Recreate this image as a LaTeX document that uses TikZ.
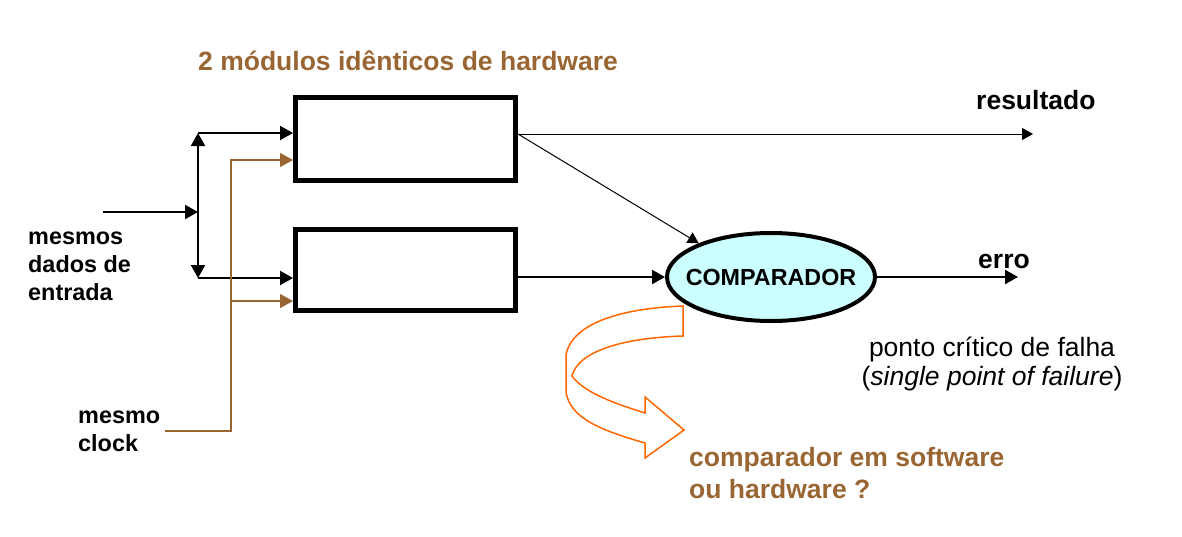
\documentclass[tikz,border=0pt]{standalone}
\usepackage{fontspec}
\setmainfont{Liberation Sans}
\usetikzlibrary{arrows.meta,shapes.geometric}
\definecolor{brn}{HTML}{996633}
\definecolor{org}{HTML}{FF6600}
\definecolor{cyn}{HTML}{CCFFFF}
\tikzset{
  tri/.tip={Triangle[length=13pt,width=14pt]},
  tris/.tip={Triangle[length=11pt,width=12pt]},
  conn/.style={line width=2.2pt,-tri},
  thinconn/.style={line width=1pt,-tris},
  clockconn/.style={line width=1.3pt,draw=brn,-{Triangle[length=13pt,width=14pt,fill=brn]}},
  modbox/.style={draw,line width=5pt,rectangle,minimum width=220pt,inner sep=0pt},
  cmpnode/.style={draw,ellipse,line width=4pt,fill=cyn,minimum width=208pt,minimum height=88pt,inner sep=0pt},
  cmptext/.style={font=\fontsize{23.3}{28}\selectfont\bfseries,inner sep=0pt},
  big/.style={font=\fontsize{26.5}{32}\selectfont\bfseries,anchor=base west,inner sep=0pt},
  lbl/.style={font=\fontsize{23.4}{28}\selectfont\bfseries,anchor=base west,inner sep=0pt,align=left},
  note/.style={font=\fontsize{26.5}{31}\selectfont,anchor=base,inner sep=0pt}
}
\begin{document}
\begin{tikzpicture}[x=1pt,y=-1pt]
\useasboundingbox (0,0) rectangle (1182,536);
% modules
\node[modbox,minimum height=83pt] (m1) at (405.5,139) {};
\node[modbox,minimum height=81pt] (m2) at (405.5,270) {};
\node[cmpnode] (cmp) at (771,277) {};
\node[cmptext] (cmptxt) at (cmp.center) {COMPARADOR};
% coordinates
\coordinate (in) at (103,212);
\coordinate (j) at (198,212);
\coordinate (jt) at (198,133);
\coordinate (jb) at (198,278);
\coordinate (clk) at (165,431);
\coordinate (ccorner) at (231,431);
\coordinate (ct) at (231,160);
\coordinate (cb) at (231,301);
\coordinate (res) at (1033,134);
\coordinate (err) at (1018,277);
% data connectors
\draw[conn] (in) -- (j);
\draw[line width=2.2pt,tri-tri] (jt) -- (jb);
\draw[conn] (jt) -- (jt -| m1.west);
\draw[conn] (jb) -- (jb -| m2.west);
% clock
\draw[clockconn] (clk) -- (ccorner) -- (ct) -- (ct -| m1.west);
\draw[clockconn] (cb) -- (cb -| m2.west);
% outputs
\draw[thinconn] (m1.east |- res) -- (res);
\draw[thinconn] (m1.east |- res) -- (cmp.155);
\draw[conn] (m2.east |- cmp) -- (cmp.west);
\draw[conn] (cmp.east) -- (err);
% curved orange arrow
\draw[org,line width=1.5pt,line join=miter]
  (683,306) -- (683,336)
  .. controls (620,338) and (578,352) .. (572,376)
  .. controls (585,394) and (620,405) .. (645,413)
  -- (645,397) -- (684,430) -- (645,458) -- (645,443)
  .. controls (600,430) and (570,418) .. (566,392)
  -- (566,355)
  .. controls (572,322) and (625,308) .. (683,306) -- cycle;
% texts
\node[big,text=brn] (title) at (198,70) {2 módulos idênticos de hardware};
\node[big] (tres) at (976,109) {resultado};
\node[big] (terr) at (978,268) {erro};
\node[note] (pc1) at (992,356) {ponto crítico de falha};
\node[note] (pc2) at (992,385) {(\textit{single point of failure})};
\node[lbl] (dados) at (28,300) {mesmos\\dados de\\entrada};
\node[lbl] (mclk) at (78,451) {mesmo\\clock};
\node[big,text=brn,align=left] (q) at (689,498) {comparador em software\\ou hardware ?};
\end{tikzpicture}
\end{document}
